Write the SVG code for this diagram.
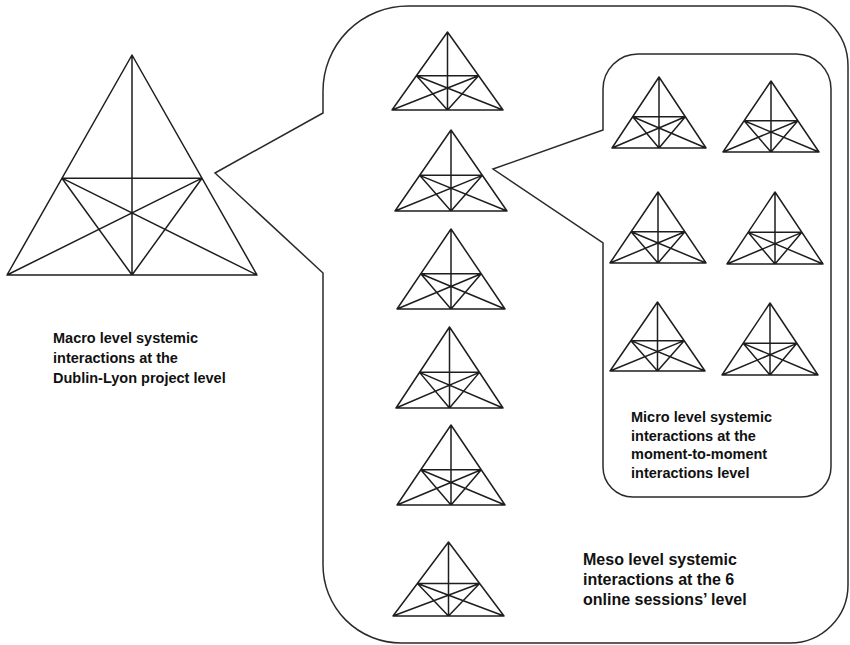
<svg xmlns="http://www.w3.org/2000/svg" xmlns:xlink="http://www.w3.org/1999/xlink" width="850" height="645" viewBox="0 0 850 645">
<style>
.tri{fill:none;stroke:#1e1e1e;stroke-width:1.5;stroke-linejoin:round;vector-effect:non-scaling-stroke}
.callout{fill:none;stroke:#2a2a2a;stroke-width:1.5;stroke-linejoin:miter}
.lbl{font-family:"Liberation Sans",Arial,sans-serif;font-weight:bold;fill:#111}
</style>
<defs>
<path id="tri" class="tri" d="M0,0 L-1,1 L1,1 Z M0,0 L0,1 M-0.56,0.56 L0.56,0.56 M-0.56,0.56 L0,1 M-0.56,0.56 L1,1 M0.56,0.56 L0,1 M0.56,0.56 L-1,1"/>
</defs>
<rect width="850" height="645" fill="#fff"/>
<g id="connectors">
<path id="meso-callout" class="callout" d="M323,113 L215,173 L323,273 L323,565 A78,78 0 0 0 401,643 L790,643 A58,58 0 0 0 848,585 L848,66 A60,60 0 0 0 788,6 L408,6 A85,85 0 0 0 323,91 Z"/>
<path id="micro-callout" class="callout" d="M603,130 L493,169 L603,243 L603,467 A30,30 0 0 0 633,497 L801,497 A30,30 0 0 0 831,467 L831,89 A35,35 0 0 0 796,54 L638,54 A35,35 0 0 0 603,89 Z"/>
</g>
<g id="macro"><use xlink:href="#tri" transform="translate(132,55) scale(125,220)"/></g>
<g id="meso1"><use xlink:href="#tri" transform="translate(447.5,32) scale(55.5,78)"/></g>
<g id="meso2"><use xlink:href="#tri" transform="translate(451,130) scale(56,81)"/></g>
<g id="meso3"><use xlink:href="#tri" transform="translate(451,229) scale(54,80)"/></g>
<g id="meso4"><use xlink:href="#tri" transform="translate(449.5,327) scale(53.5,81)"/></g>
<g id="meso5"><use xlink:href="#tri" transform="translate(451,425) scale(54,80)"/></g>
<g id="meso6"><use xlink:href="#tri" transform="translate(448.5,542) scale(55.5,74)"/></g>
<g id="micro1"><use xlink:href="#tri" transform="translate(659,77) scale(47,71)"/></g>
<g id="micro2"><use xlink:href="#tri" transform="translate(771,81) scale(48,71)"/></g>
<g id="micro3"><use xlink:href="#tri" transform="translate(658,192) scale(48,71)"/></g>
<g id="micro4"><use xlink:href="#tri" transform="translate(775,192) scale(48,72)"/></g>
<g id="micro5"><use xlink:href="#tri" transform="translate(657.5,302) scale(47.5,69)"/></g>
<g id="micro6"><use xlink:href="#tri" transform="translate(770,303) scale(48,72)"/></g>
<g id="macro-label"><text class="lbl" font-size="14.5" x="53" y="343"><tspan x="53">Macro level systemic</tspan><tspan x="53" dy="20">interactions at the</tspan><tspan x="53" dy="20">Dublin-Lyon project level</tspan></text></g>
<g id="micro-label"><text class="lbl" font-size="14.5" x="631" y="422"><tspan x="631">Micro level systemic</tspan><tspan x="631" dy="18.5">interactions at the</tspan><tspan x="631" dy="18.5">moment-to-moment</tspan><tspan x="631" dy="18.5">interactions level</tspan></text></g>
<g id="meso-label"><text class="lbl" font-size="16" x="583" y="565"><tspan x="583">Meso level systemic</tspan><tspan x="583" dy="20">interactions at the 6</tspan><tspan x="583" dy="20">online sessions’ level</tspan></text></g>
</svg>
